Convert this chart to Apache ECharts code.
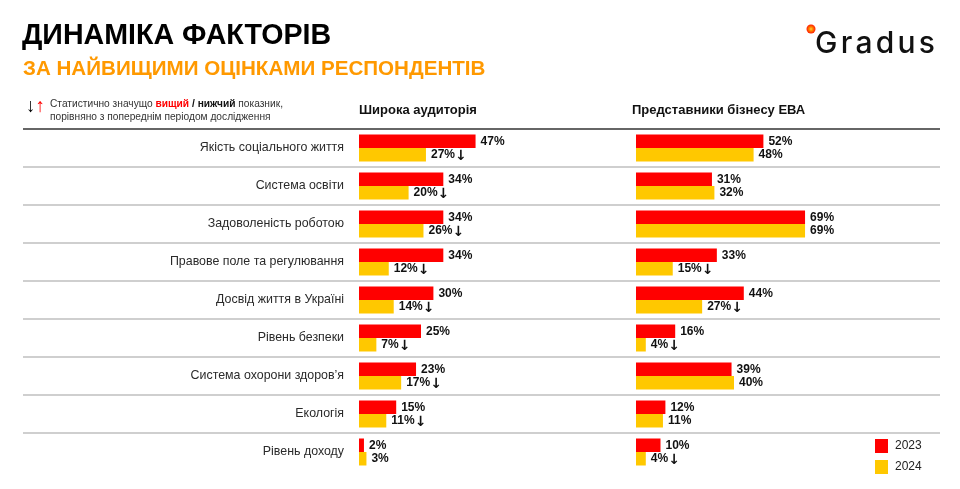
<!DOCTYPE html>
<html><head><meta charset="utf-8">
<script src="https://cdn.jsdelivr.net/npm/echarts@6/dist/echarts.min.js"></script>
<style>html,body{margin:0;padding:0;background:#fff}#c{width:960px;height:489px}</style>
</head><body><div id="c"></div>
<script>
const categories = ['Якість соціального життя','Система освіти','Задоволеність роботою','Правове поле та регулювання','Досвід життя в Україні','Рівень безпеки','Система охорони здоров’я','Екологія','Рівень доходу'];
const years = ['2023','2024'];
const wide2023 = [47,34,34,34,30,25,23,15,2];
const wide2024 = [27,20,26,12,14,7,17,11,3];
const wideDown2024 = [1,1,1,1,1,1,1,1,0];
const eba2023 = [52,31,69,33,44,16,39,12,10];
const eba2024 = [48,32,69,15,27,4,40,11,4];
const ebaDown2024 = [0,0,0,1,1,1,0,0,1];
const panelTitles = ['Широка аудиторія','Представники бізнесу ЕВА'];

const FONT = '"Liberation Sans", Arial, sans-serif';
const ARROWFONT = '"DejaVu Sans", sans-serif';
const RED = '#FF0000', YEL = '#FFC800';

function mkLabel(down){
  return {
    show:true, position:'right', distance:5,
    formatter: p => '{v|' + p.value + '%}' + (down && down[p.dataIndex] ? '{a|↓}' : ''),
    rich:{
      v:{fontFamily:FONT, fontWeight:'bold', fontSize:12, color:'#111'},
      a:{fontFamily:ARROWFONT, fontWeight:'bold', fontSize:14, color:'#111', padding:[3,0,0,0]}
    }
  };
}
function bar(name, data, color, xi, down){
  return {
    type:'bar', name, data, xAxisIndex:xi, yAxisIndex:xi,
    barWidth:13.5, barGap:'0%', itemStyle:{color}, label:mkLabel(down),
    silent:true, animation:false
  };
}
const hiddenY = i => ({type:'category', gridIndex:i, data:categories, inverse:true, show:false});
const hiddenX = i => ({type:'value', gridIndex:i, min:0, max:100, show:false});

const chart = echarts.init(document.getElementById('c'), null, {renderer:'canvas'});
chart.setOption({
  animation:false,
  backgroundColor:'#fff',
  grid:[
    {left:23, right:20, top:129, height:342},
    {left:359, width:248, top:129, height:342},
    {left:636, width:245, top:129, height:342}
  ],
  xAxis:[hiddenX(0), hiddenX(1), hiddenX(2)],
  yAxis:[
    {type:'category', gridIndex:0, data:categories, inverse:true,
     axisLine:{show:false}, axisTick:{show:false},
     axisLabel:{margin:-321, fontSize:12.4, color:'#2a2a2a', fontFamily:FONT},
     splitLine:{show:true, showMinLine:false, showMaxLine:false, lineStyle:{color:'#cfcfcf', width:2}}},
    hiddenY(1), hiddenY(2)
  ],
  legend:{
    data:years, orient:'vertical', left:875, top:439, padding:0, itemWidth:13, itemHeight:14, itemGap:7,
    icon:'rect', textStyle:{fontSize:12, color:'#222', fontFamily:FONT, padding:[0,0,0,2]},
    selectedMode:false
  },
  series:[
    bar(years[0], wide2023, RED, 1, null),
    bar(years[1], wide2024, YEL, 1, wideDown2024),
    bar(years[0], eba2023, RED, 2, null),
    bar(years[1], eba2024, YEL, 2, ebaDown2024)
  ],
  graphic:[
    {type:'text', left:22, top:22, style:{text:'ДИНАМІКА ФАКТОРІВ', font:'bold 28.6px '+FONT, fill:'#000'}},
    {type:'text', left:23, top:59, style:{text:'ЗА НАЙВИЩИМИ ОЦІНКАМИ РЕСПОНДЕНТІВ', font:'bold 20.6px '+FONT, fill:'#FF9900'}},
    {type:'text', left:26, top:97, style:{
      text:'{k|↓}{u|↑}', rich:{k:{fontFamily:FONT, fontWeight:'bold', fontSize:19, fill:'#000'}, u:{fontFamily:FONT, fontWeight:'bold', fontSize:19, fill:RED}}}},
    {type:'text', left:50, top:99, style:{
      text:'{n|Статистично значущо }{r|вищий}{b| / нижчий}{n| показник,}\n{n|порівняно з попереднім періодом дослідження}',
      rich:{
        n:{fontFamily:FONT, fontSize:10.2, fill:'#333', lineHeight:13},
        r:{fontFamily:FONT, fontSize:10.2, fontWeight:'bold', fill:RED, lineHeight:13},
        b:{fontFamily:FONT, fontSize:10.2, fontWeight:'bold', fill:'#111', lineHeight:13}
      }}},
    {type:'text', left:359, top:104, style:{text:panelTitles[0], font:'bold 13px '+FONT, fill:'#111'}},
    {type:'text', left:632, top:104, style:{text:panelTitles[1], font:'bold 13px '+FONT, fill:'#111'}},
    {type:'line', shape:{x1:23, y1:129, x2:940, y2:129}, style:{stroke:'#333', lineWidth:1.5}},
    {type:'circle', shape:{cx:811, cy:29, r:4.5}, style:{fill:{type:'radial', x:0.5, y:0.5, r:0.5,
      colorStops:[{offset:0, color:'#FFD040'},{offset:0.4, color:'#FF8800'},{offset:1, color:'#FF1a00'}]}}},
    {type:'text', left:815, top:29, style:{
      text:'{g|G}{g|r}{g|a}{g|d}{g|u}{g|s}',
      rich:{g:{fontFamily:'Inter, "Open Sans", sans-serif', fontWeight:500, fontSize:30, fill:'#111', padding:[0,1.6,0,1.6]}}}}
  ]
});
</script></body></html>
